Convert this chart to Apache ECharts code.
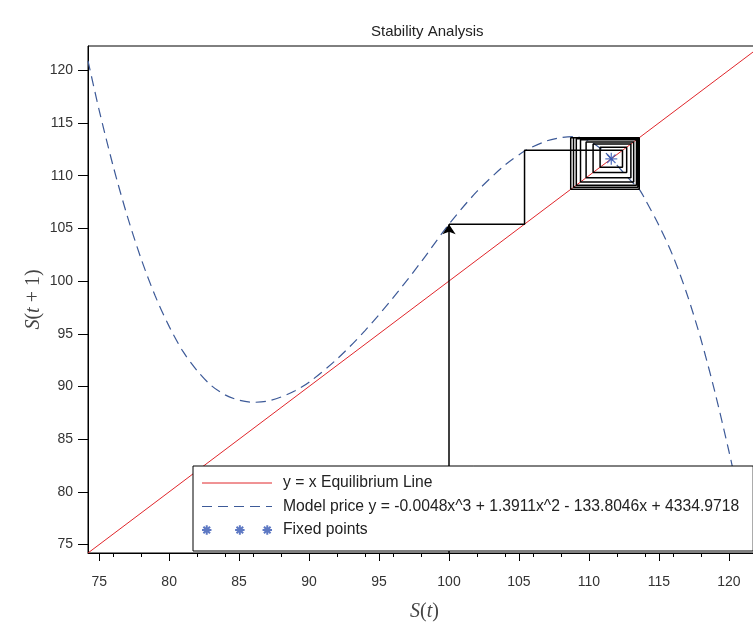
<!DOCTYPE html>
<html>
<head>
<meta charset="utf-8">
<script src="https://cdn.jsdelivr.net/npm/echarts@6/dist/echarts.min.js"></script>
<style>html,body{margin:0;padding:0;background:#fff;}#c{width:753px;height:624px;}</style>
</head>
<body>
<div id="c"></div>
<script>
// ---- data ----
const xRange = [74.2, 122.3];
const yRange = [74.2, 122.3];
const xTicks = [75, 80, 85, 90, 95, 100, 105, 110, 115, 120];
const yTicks = [75, 80, 85, 90, 95, 100, 105, 110, 115, 120];
const eqX = [74.2, 122.3];
const eqY = [74.2, 122.3];
const curveX = [74.2, 75, 76, 77, 78, 79, 80, 81, 82, 83, 84, 85, 86, 87, 88, 89, 90, 92, 94, 96, 98, 100, 102, 104, 105.5, 107, 108, 109, 110, 111, 111.6, 112, 113, 113.6, 114, 115, 116, 117, 118, 119, 120, 120.3, 121, 121.7];
const curveY = [120.9, 116.2, 110.9, 106.2, 102.1, 98.6, 95.7, 93.3, 91.5, 90.1, 89.2, 88.7, 88.5, 88.6, 89.0, 89.6, 90.4, 92.6, 95.3, 98.4, 101.8, 105.4, 108.5, 111.0, 112.4, 113.3, 113.6, 113.7, 113.3, 112.4, 111.6, 111.0, 109.5, 108.7, 107.8, 105.3, 102.4, 98.8, 94.5, 89.5, 83.9, 82.1, 77.8, 73.5];
const fixedX = [111.6];
const fixedY = [111.6];
const cobwebStartY = [74.2];
const cobwebIterates = [100, 105.4, 112.4, 110.8, 112.7, 110.3, 113.0, 109.8, 113.2, 109.4, 113.4, 109.1, 113.5, 108.9, 113.6, 108.7, 113.6, 108.7];

const legendNames = ['y = x Equilibrium Line', 'Model price y = -0.0048x^3 + 1.3911x^2 - 133.8046x + 4334.9718', 'Fixed points'];

// ---- build series tables ----
const eqData = eqX.map((x, i) => [x, eqY[i]]);
const curveData = curveX.map((x, i) => [x, curveY[i]]);
const fixedData = fixedX.map((x, i) => [x, fixedY[i]]);
const cobPath = [[cobwebIterates[0], cobwebIterates[1]]];
for (let i = 1; i < cobwebIterates.length - 1; i++) {
  cobPath.push([cobwebIterates[i], cobwebIterates[i]]);
  cobPath.push([cobwebIterates[i], cobwebIterates[i + 1]]);
}
const arrowSeg = [{ coords: [[cobwebIterates[0], cobwebStartY[0]], [cobwebIterates[0], cobwebIterates[1]]] }];

const blue = '#3d5a98';
const starBlue = '#3556b4';
const red = '#e0262b';
const starPath = 'path://M5 0L5 10M0 5L10 5M1.5 1.5L8.5 8.5M8.5 1.5L1.5 8.5';
function star(cx) {
  return 'M' + cx + ' 2L' + cx + ' 12M' + (cx - 5) + ' 7L' + (cx + 5) + ' 7' +
    'M' + (cx - 3.5) + ' 3.5L' + (cx + 3.5) + ' 10.5M' + (cx + 3.5) + ' 3.5L' + (cx - 3.5) + ' 10.5';
}
const starLegend = 'path://M0 0L0 0' + star(1) + star(36) + star(65) + 'M70 14L70 14';

const labelFont = 'Liberation Sans';
const mathRich = {
  i: { fontFamily: 'Liberation Serif', fontStyle: 'italic', fontSize: 20, color: '#444' },
  n: { fontFamily: 'Liberation Serif', fontSize: 20, color: '#444' }
};

const chart = echarts.init(document.getElementById('c'), null, { renderer: 'canvas' });
chart.setOption({
  animation: false,
  backgroundColor: '#fff',
  title: {
    text: 'Stability Analysis',
    left: 366, top: 19,
    textStyle: { fontFamily: labelFont, fontSize: 15, fontWeight: 'normal', color: '#222' }
  },
  grid: { left: 88, right: -8, top: 46, bottom: 71, outerBoundsMode: 'none', containLabel: false, show: true, borderColor: '#000', borderWidth: 1, backgroundColor: '#fff' },
  legend: {
    orient: 'vertical', left: 193, top: 466, z: 10,
    itemWidth: 70, itemHeight: 14, itemGap: 7.5,
    padding: [9, 14, 13, 8],
    backgroundColor: '#fff', borderColor: '#000', borderWidth: 1, borderRadius: 0,
    textStyle: { fontFamily: labelFont, fontSize: 15.7, lineHeight: 14, color: '#222', padding: [0, 0, 0, 6] },
    data: [
      { name: legendNames[0], itemStyle: { opacity: 0 }, lineStyle: { width: 1 } },
      { name: legendNames[1], itemStyle: { opacity: 0 }, lineStyle: { width: 1.2 } },
      { name: legendNames[2], icon: starLegend }
    ]
  },
  xAxis: {
    type: 'value', min: xRange[0], max: xRange[1],
    axisLine: { show: true, onZero: false, lineStyle: { color: '#000', width: 1 } },
    axisTick: { show: true, length: 8, customValues: xTicks, lineStyle: { color: '#000' } },
    minorTick: { show: true, splitNumber: 5, length: 4, lineStyle: { color: '#000' } },
    axisLabel: { customValues: xTicks, margin: 22, fontFamily: labelFont, fontSize: 14, color: '#333' },
    splitLine: { show: false },
    name: '{i|S}{n|(}{i|t}{n|)}', nameLocation: 'middle', nameGap: 49, nameMoveOverlap: false,
    nameTextStyle: { rich: mathRich }
  },
  yAxis: {
    type: 'value', min: yRange[0], max: yRange[1],
    axisLine: { show: true, onZero: false, lineStyle: { color: '#000', width: 1 } },
    axisTick: { show: true, length: 10, customValues: yTicks, lineStyle: { color: '#000' } },
    axisLabel: { customValues: yTicks, margin: 15, fontFamily: labelFont, fontSize: 14, color: '#333' },
    splitLine: { show: false },
    name: '{i|S}{n|(}{i|t}{n| + 1)}', nameLocation: 'middle', nameGap: 44, nameRotate: 90, nameMoveOverlap: false,
    nameTextStyle: { rich: mathRich }
  },
  series: [
    {
      name: legendNames[0], type: 'line', data: eqData, symbol: 'none', z: 2,
      lineStyle: { color: red, width: 1 }, itemStyle: { color: red }
    },
    {
      name: legendNames[1], type: 'line', data: curveData, symbol: 'none', smooth: 0.3, z: 2,
      lineStyle: { color: blue, width: 1.2, type: [10, 6] }, itemStyle: { color: blue }
    },
    {
      name: 'cobweb', type: 'line', data: cobPath, symbol: 'none', z: 3,
      lineStyle: { color: '#000', width: 1.5 }
    },
    {
      name: 'arrow', type: 'lines', coordinateSystem: 'cartesian2d', z: 3,
      symbol: ['none', 'arrow'], symbolSize: [7, 10],
      lineStyle: { color: '#000', width: 1.5, opacity: 1 },
      data: arrowSeg
    },
    {
      name: legendNames[2], type: 'scatter', data: fixedData, symbol: starPath, symbolSize: 12, z: 3,
      itemStyle: { color: starBlue, borderColor: starBlue, borderWidth: 1.3 }
    }
  ]
});
</script>
</body>
</html>
